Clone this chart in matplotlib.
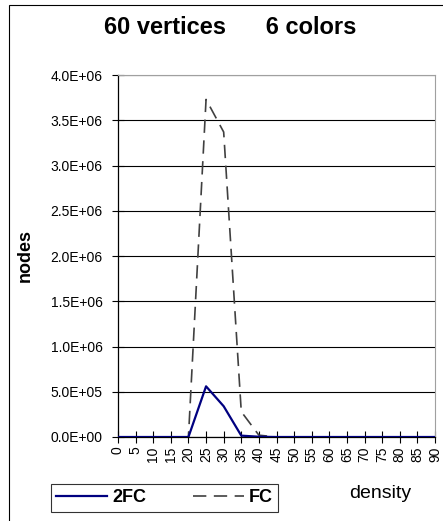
import matplotlib
matplotlib.use("Agg")
import matplotlib.pyplot as plt
from matplotlib.patches import Rectangle
from matplotlib.ticker import FuncFormatter, MultipleLocator

plt.rcParams["font.family"] = ["Liberation Sans", "DejaVu Sans"]

density = [0, 5, 10, 15, 20, 25, 30, 35, 40, 45, 50, 55, 60, 65, 70, 75, 80, 85, 90]
two_fc = [0, 0, 0, 0, 0, 5.6e5, 3.4e5, 1.5e4, 3e3, 0, 0, 0, 0, 0, 0, 0, 0, 0, 0]
fc = [0, 0, 0, 0, 0, 3.73e6, 3.37e6, 2.8e5, 2e4, 0, 0, 0, 0, 0, 0, 0, 0, 0, 0]

W, H = 443, 521
fig = plt.figure(figsize=(W / 100, H / 100), dpi=100)

# plot area in pixel coords
left, right, top, bottom = 118, 435, 75, 437
ax = fig.add_axes([left / W, 1 - bottom / H, (right - left) / W, (bottom - top) / H])

ax.plot(density, fc, color="#404040", lw=1.2, dashes=(8, 4.5), label="FC", zorder=3)
ax.plot(density, two_fc, color="#000080", lw=1.6, label="2FC", zorder=4)

ax.set_xlim(0, 90)
ax.set_ylim(0, 4e6)
ax.set_xticks(density)
ax.set_xticklabels([str(d) for d in density], rotation=90, fontsize=10)
ax.yaxis.set_major_locator(MultipleLocator(5e5))
ax.yaxis.set_major_formatter(FuncFormatter(lambda v, p: f"{v:.1E}"))
ax.tick_params(axis="y", labelsize=10, direction="inout", length=8, width=0.8, pad=7)
ax.tick_params(axis="x", direction="inout", length=8, width=0.8, pad=3)

ax.grid(axis="y", color="black", lw=0.8)
ax.set_axisbelow(True)
for side in ["left", "bottom"]:
    ax.spines[side].set_color("black")
    ax.spines[side].set_linewidth(0.9)
for side in ["top", "right"]:
    ax.spines[side].set_color("#a0a0a0")
    ax.spines[side].set_linewidth(0.8)

fig.text(230 / W, 1 - 28 / H, "60 vertices      6 colors", ha="center", va="center",
         fontsize=17, weight="bold")
fig.text(25 / W, 1 - 255 / H, "nodes", ha="center", va="center", rotation=90,
         fontsize=13, weight="bold")
fig.text(380 / W, 1 - 493 / H, "density", ha="center", va="center", fontsize=14)

# outer chart frame (cut by the image edge on the right and bottom)
fig.patches.append(Rectangle((9 / W, -0.1), 1.2, 1.1 - 5 / H, transform=fig.transFigure,
                             fill=False, edgecolor="black", lw=0.8, clip_on=False))

handles, labels = ax.get_legend_handles_labels()
leg = fig.legend(handles[::-1], labels[::-1], loc="center",
                 bbox_to_anchor=(164.5 / W, 1 - 498 / H), ncol=2,
                 prop={"weight": "bold", "size": 13}, frameon=True, fancybox=False,
                 edgecolor="black", handlelength=2.8, handletextpad=0.3,
                 columnspacing=2.6, borderpad=0.3)
leg.get_frame().set_linewidth(0.8)

fig.savefig("out.png", dpi=100)
